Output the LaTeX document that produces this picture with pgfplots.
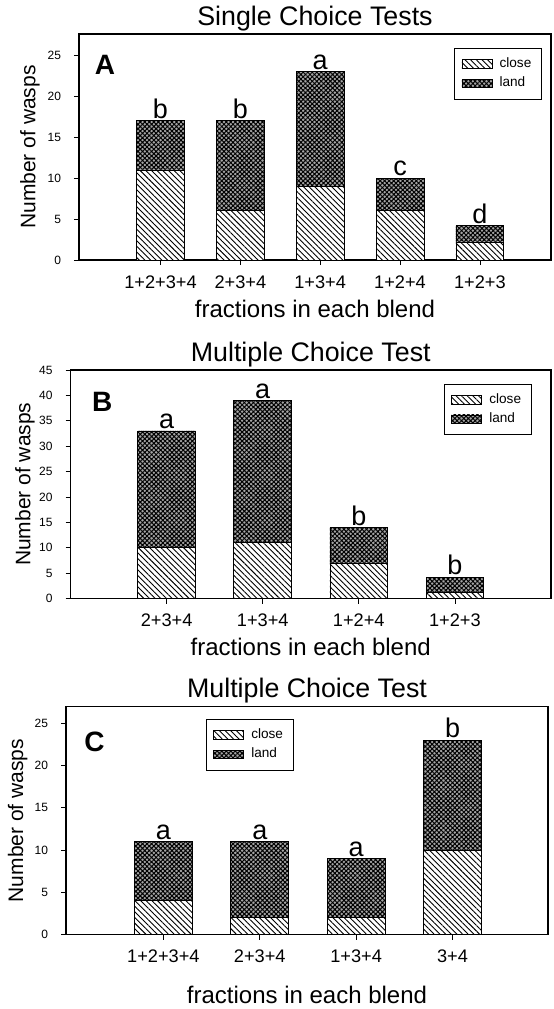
\documentclass[border=0pt]{standalone}
\usepackage{fontspec}
\setmainfont{Liberation Sans}
\usepackage{pgfplots}
\pgfplotsset{compat=1.18}
\usetikzlibrary{patterns.meta}

\pgfplotsset{
  wasp/.style={
    scale only axis,
    ybar stacked,
    bar width=0.6,
    ymin=0,
    xtick={0,...,4},
    tick align=outside,
    major tick length=2.5pt,
    tick style={black, line width=0.4pt},
    xtick pos=bottom, ytick pos=left,
    axis line style={line width=0.6pt},
    /pgf/number format/assume math mode=true,
    yticklabel style={font=\fontsize{6}{7}\selectfont, xshift=-3pt},
    xticklabel style={font=\fontsize{9.1}{10}\selectfont, anchor=base, yshift=-11.5pt},
    title style={font=\fontsize{13.4}{15}\selectfont, at={(0.5,1)}, anchor=base, yshift=-1.6pt},
    ylabel={Number of wasps},
    xlabel={fractions in each blend},
    legend style={font=\fontsize{6.8}{8}\selectfont, draw=black, line width=0.5pt,
      inner xsep=3.5pt, inner ysep=3pt, nodes={inner sep=1.6pt},
      /tikz/every odd column/.append style={column sep=2pt}},
    legend image code/.code={\draw[#1] (0pt,-2.2pt) rectangle (15pt,2.2pt);},
    legend cell align=left,
  },
  closebar/.style={draw=black, line width=0.4pt, fill=white,
    postaction={pattern={Lines[angle=-45,distance=2pt,line width=0.45pt]}}},
  landbar/.style={draw=black, line width=0.4pt, fill=black!35,
    postaction={pattern={Hatch[angle=45,distance=1.6pt,line width=0.5pt]}}},
  letters/.style={point meta=explicit symbolic, nodes near coords,
    visualization depends on={rawy \as \landh},
    every node near coord/.append style={text=black, draw=none, fill=none,
      font=\fontsize{13.5}{15}\selectfont, anchor=base, inner sep=0pt,
      shift={(axis direction cs:0,0.5*\landh)}, yshift=1.2pt}},
}

\begin{document}
\begin{tikzpicture}
\useasboundingbox (0,0) rectangle (276.5pt,-504.5pt);

% ---------- Panel A ----------
\begin{axis}[wasp,
  at={(39.5pt,-130pt)}, anchor=south west,
  width=236pt, height=113pt,
  xmin=-1.02, xmax=4.89, ymax=27.6,
  ytick={0,5,...,25},
  xticklabels={1+2+3+4, 2+3+4, 1+3+4, 1+2+4, 1+2+3},
  title={Single Choice Tests},
  ylabel style={font=\fontsize{10.5}{12}\selectfont, at={(axis description cs:-0.104,0.5)}, anchor=center},
  xlabel style={font=\fontsize{12}{14}\selectfont, at={(axis description cs:0.5,0)}, anchor=base, yshift=-28.5pt},
  legend style={at={(0.981,0.938)}, anchor=north east},
]
\addplot[closebar] coordinates {(0,11) (1,6) (2,9) (3,6) (4,2.2)};
\addplot[landbar, letters] coordinates {(0,6) [b] (1,11) [b] (2,14) [a] (3,4) [c] (4,2) [d]};
\legend{close, land}
\node[font=\bfseries\fontsize{14}{16}\selectfont] at (rel axis cs:0.055,0.863) {A};
\end{axis}

% ---------- Panel B ----------
\begin{axis}[wasp,
  at={(35.25pt,-299.25pt)}, anchor=south west,
  width=240.25pt, height=114.25pt,
  xmin=-1.0, xmax=4.0, ymax=45,
  ytick={0,5,...,45},
  xtick={0,...,3},
  xticklabels={2+3+4, 1+3+4, 1+2+4, 1+2+3},
  title={Multiple Choice Test},
  ylabel style={font=\fontsize{10.5}{12}\selectfont, at={(axis description cs:-0.095,0.5)}, anchor=center},
  xlabel style={font=\fontsize{12}{14}\selectfont, at={(axis description cs:0.5,0)}, anchor=base, yshift=-28.25pt},
  legend style={at={(0.960,0.939)}, anchor=north east},
]
\addplot[closebar] coordinates {(0,10) (1,11) (2,7) (3,1.2)};
\addplot[landbar, letters] coordinates {(0,23) [a] (1,28) [a] (2,7) [b] (3,3) [b]};
\legend{close, land}
\node[font=\bfseries\fontsize{14}{16}\selectfont] at (rel axis cs:0.066,0.86) {B};
\end{axis}

% ---------- Panel C ----------
\begin{axis}[wasp,
  at={(33pt,-467.25pt)}, anchor=south west,
  width=241pt, height=114pt,
  xmin=-1.01, xmax=3.99, ymax=27,
  ytick={0,5,...,25},
  xtick={0,...,3},
  xticklabels={1+2+3+4, 2+3+4, 1+3+4, 3+4},
  title={Multiple Choice Test},
  ylabel style={font=\fontsize{10.5}{12}\selectfont, at={(axis description cs:-0.1,0.5)}, anchor=center},
  xlabel style={font=\fontsize{12}{14}\selectfont, at={(axis description cs:0.5,0)}, anchor=base, yshift=-34.25pt},
  legend style={at={(0.290,0.945)}, anchor=north west},
]
\addplot[closebar] coordinates {(0,4) (1,2) (2,2) (3,10)};
\addplot[landbar, letters] coordinates {(0,7) [a] (1,9) [a] (2,7) [a] (3,13) [b]};
\legend{close, land}
\node[font=\bfseries\fontsize{14}{16}\selectfont] at (rel axis cs:0.059,0.844) {C};
\end{axis}
\end{tikzpicture}
\end{document}
